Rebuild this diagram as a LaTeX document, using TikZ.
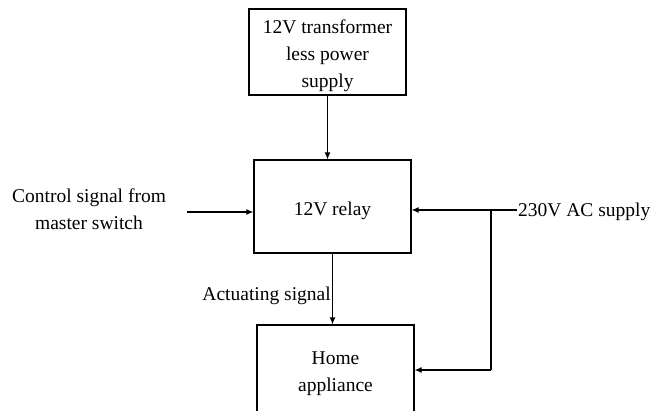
\documentclass[tikz,border=0pt]{standalone}
\usepackage{fontspec}
\setmainfont{Liberation Serif}
\usetikzlibrary{arrows.meta}
\begin{document}
\begin{tikzpicture}[x=1pt,y=-1pt,
  every node/.style={font=\fontsize{19.5}{27}\selectfont, inner sep=0pt},
  blk/.style={draw, line width=1.2pt, minimum width=157pt},
  txt/.style={align=center},
  conn/.style={line width=1.2pt, -{Latex[length=7pt,width=6pt]}},
  wire/.style={line width=1.2pt}]
\useasboundingbox (0,0) rectangle (655,411);
\clip (0,0) rectangle (655,411);
\node[blk, minimum height=86pt] (ps) at (327.5,52) {};
\node[txt] (pst) at (327.5,56) {12V transformer\\less power\\supply};
\node[blk, minimum height=93pt] (relay) at (332.5,206.5) {};
\node[txt] (relayt) at (332.5,211) {12V relay};
\node[blk, minimum height=90pt] (home) at (335.5,370) {};
\node[txt] (homet) at (335.5,374) {Home\\appliance};
\node[txt] (ctrl) at (89,209.5) {Control signal from\\master switch};
\node[anchor=west] (ac) at (518,211.5) {230V AC supply};
\node[anchor=east] (act) at (331,296) {Actuating signal};
\coordinate (cs) at (187,212);
\coordinate (acs) at (517,210);
\coordinate (j) at (491,210);
\coordinate (jd) at (491,370);
\draw[conn] (ps.south) -- (ps.south |- relay.north);
\draw[conn] (cs) -- (cs -| relay.west);
\draw[conn] (acs) -- (acs -| relay.east);
\draw[conn] (relay.south) -- (relay.south |- home.north);
\draw[wire] (j) -- (jd);
\draw[conn] (jd) -- (home.east);
\end{tikzpicture}
\end{document}
